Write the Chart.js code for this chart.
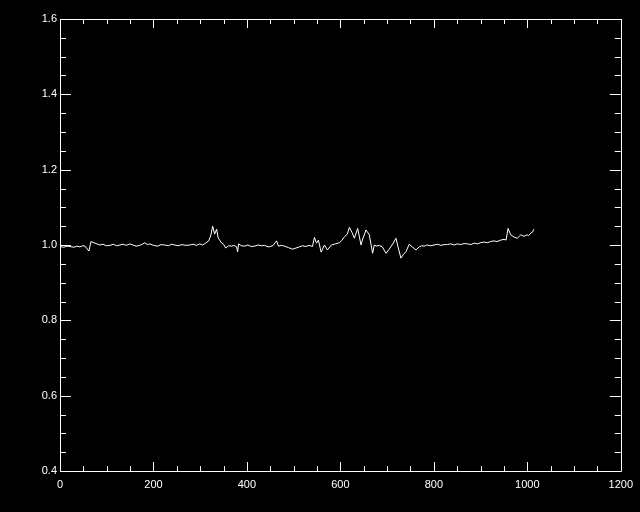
<!DOCTYPE html>
<html>
<head>
<meta charset="utf-8">
<script src="https://cdn.jsdelivr.net/npm/chart.js@4/dist/chart.umd.min.js"></script>
<style>
  html, body { margin: 0; padding: 0; background: #000; }
  canvas { display: block; }
</style>
</head>
<body>
<canvas id="plot" width="640" height="512"></canvas>
<script>
// spectrum
const xVals = [0, 8, 15, 21.4, 30, 36, 42.7, 48, 53.4, 61.9, 66.2, 72.6, 79, 85.4, 92, 99, 106.8, 114, 121, 128.1, 135, 142, 149.5, 156, 163, 170.8, 176, 181.5, 187, 192.2, 200, 209.3, 216, 224.2, 232, 239, 245.6, 253, 261, 269, 277.6, 285, 292, 298.9, 305, 311.7, 318.2, 322.4, 326.7, 331, 335.2, 338.4, 341.6, 345.9, 350, 354.5, 361, 367.3, 372, 377.9, 380.1, 382.2, 388, 395, 402, 409, 416.4, 424, 431, 437.7, 443, 448.4, 456, 463.4, 467.6, 474, 480.4, 489, 497.5, 505, 512.5, 519, 526, 533, 540.2, 544.5, 548.8, 553, 558.8, 565.9, 572.3, 580.8, 589.3, 597.9, 603, 608.6, 615, 619.2, 625, 629.9, 637, 644.2, 647, 654.9, 661.9, 669, 672.6, 678, 683.3, 689.7, 697.6, 704.6, 713.2, 718.9, 723.9, 729.6, 735, 740.3, 747.3, 753.7, 761.7, 768.7, 774, 779.4, 786, 793, 800.7, 808, 815, 822.1, 829, 836, 843.4, 850, 857, 864.8, 872, 879, 886.1, 893, 900, 907.5, 914, 921, 928.8, 935, 943, 950.2, 954.5, 958.8, 964.5, 971.6, 978.6, 985.9, 992.9, 999.3, 1003, 1007.8, 1011, 1014.2];
const yVals = [0.996, 0.994, 0.997, 0.996, 0.994, 0.997, 0.995, 0.998, 0.997, 0.984, 1.009, 1.006, 1.003, 1.0, 1.002, 0.998, 0.999, 1.002, 0.998, 1.0, 1.002, 0.999, 1.003, 1.0, 0.997, 0.999, 1.002, 1.006, 1.001, 1.003, 0.999, 0.997, 1.001, 1.0, 0.998, 1.002, 1.0, 0.998, 1.001, 0.999, 1.0, 1.002, 0.999, 1.003, 1.0, 1.005, 1.011, 1.024, 1.05, 1.029, 1.042, 1.019, 1.013, 1.005, 1.002, 0.992, 0.998, 0.997, 0.999, 0.995, 0.982, 1.003, 0.998, 0.997, 1.0, 0.996, 0.997, 1.0, 0.998, 0.999, 0.996, 0.995, 0.999, 1.011, 0.997, 0.999, 0.997, 0.993, 0.989, 0.992, 0.995, 0.998, 0.996, 0.999, 0.996, 1.02, 1.005, 1.013, 0.981, 1.0, 0.987, 1.0, 1.003, 1.006, 1.012, 1.022, 1.029, 1.047, 1.033, 1.018, 1.044, 1.0, 1.013, 1.04, 1.027, 0.978, 1.0, 0.997, 0.999, 0.995, 0.978, 0.989, 1.005, 1.018, 0.992, 0.965, 0.975, 0.982, 1.002, 0.995, 0.987, 0.995, 0.998, 0.997, 1.0, 0.998, 1.0, 1.002, 0.999, 1.001, 1.001, 1.003, 1.0, 1.003, 1.001, 1.004, 1.003, 1.001, 1.005, 1.003, 1.006, 1.008, 1.006, 1.009, 1.011, 1.009, 1.013, 1.015, 1.013, 1.044, 1.027, 1.021, 1.018, 1.027, 1.023, 1.027, 1.025, 1.032, 1.034, 1.042];

const xMajor = [0, 200, 400, 600, 800, 1000, 1200];
const yMajor = [0.4, 0.6, 0.8, 1.0, 1.2, 1.4, 1.6];
const xMinorStep = 50;
const yMinorStep = 0.05;

const points = xVals.map((x, i) => ({ x: x, y: yVals[i] }));

// IDL style frame: box with ticks on all four sides
const idlFrame = {
  id: 'idlFrame',
  beforeDraw(chart) {
    const c = chart.ctx;
    c.save();
    c.fillStyle = '#000';
    c.fillRect(0, 0, chart.width, chart.height);
    c.restore();
  },
  afterDraw(chart) {
    const c = chart.ctx;
    const a = chart.chartArea;
    const sx = chart.scales.x, sy = chart.scales.y;
    c.save();
    c.strokeStyle = '#fff';
    c.lineWidth = 1;
    c.beginPath();
    c.rect(Math.round(a.left) + 0.5, Math.round(a.top) + 0.5,
           Math.round(a.right - a.left), Math.round(a.bottom - a.top));
    c.stroke();
    c.beginPath();
    for (let v = sx.min; v <= sx.max + 1e-6; v += xMinorStep) {
      const major = Math.abs(v % 200) < 1e-6;
      const len = major ? 9 : 5;
      const px = Math.round(sx.getPixelForValue(v)) + 0.5;
      c.moveTo(px, a.bottom); c.lineTo(px, a.bottom - len);
      c.moveTo(px, a.top); c.lineTo(px, a.top + len);
    }
    for (let k = 0; k <= Math.round((sy.max - sy.min) / yMinorStep); k++) {
      const v = sy.min + k * yMinorStep;
      const major = k % 4 === 0;
      const len = major ? 11 : 6;
      const py = Math.round(sy.getPixelForValue(v)) + 0.5;
      c.moveTo(a.left, py); c.lineTo(a.left + len, py);
      c.moveTo(a.right, py); c.lineTo(a.right - len, py);
    }
    c.stroke();
    c.restore();
  }
};

new Chart(document.getElementById('plot'), {
  type: 'line',
  data: {
    datasets: [{
      data: points,
      borderColor: '#fff',
      borderWidth: 1,
      pointRadius: 0,
      tension: 0,
      fill: false
    }]
  },
  options: {
    responsive: false,
    animation: false,
    devicePixelRatio: 1,
    layout: { padding: { left: 0, top: 19, right: 18, bottom: 0 } },
    plugins: { legend: { display: false }, tooltip: { enabled: false } },
    scales: {
      x: {
        type: 'linear',
        min: 0, max: 1200,
        afterBuildTicks: s => { s.ticks = xMajor.map(v => ({ value: v })); },
        afterFit: s => { s.height = 41; },
        grid: { display: false, drawTicks: false },
        border: { display: false },
        ticks: {
          color: '#fff',
          padding: 7,
          maxRotation: 0,
          font: { family: 'Liberation Sans', size: 11 },
          callback: v => String(v)
        }
      },
      y: {
        type: 'linear',
        min: 0.4, max: 1.6,
        afterBuildTicks: s => { s.ticks = yMajor.map(v => ({ value: v })); },
        afterFit: s => { s.width = 60; },
        grid: { display: false, drawTicks: false },
        border: { display: false },
        ticks: {
          color: '#fff',
          padding: 3,
          font: { family: 'Liberation Sans', size: 11 },
          callback: v => Number(v).toFixed(1)
        }
      }
    }
  },
  plugins: [idlFrame]
});
</script>
</body>
</html>
